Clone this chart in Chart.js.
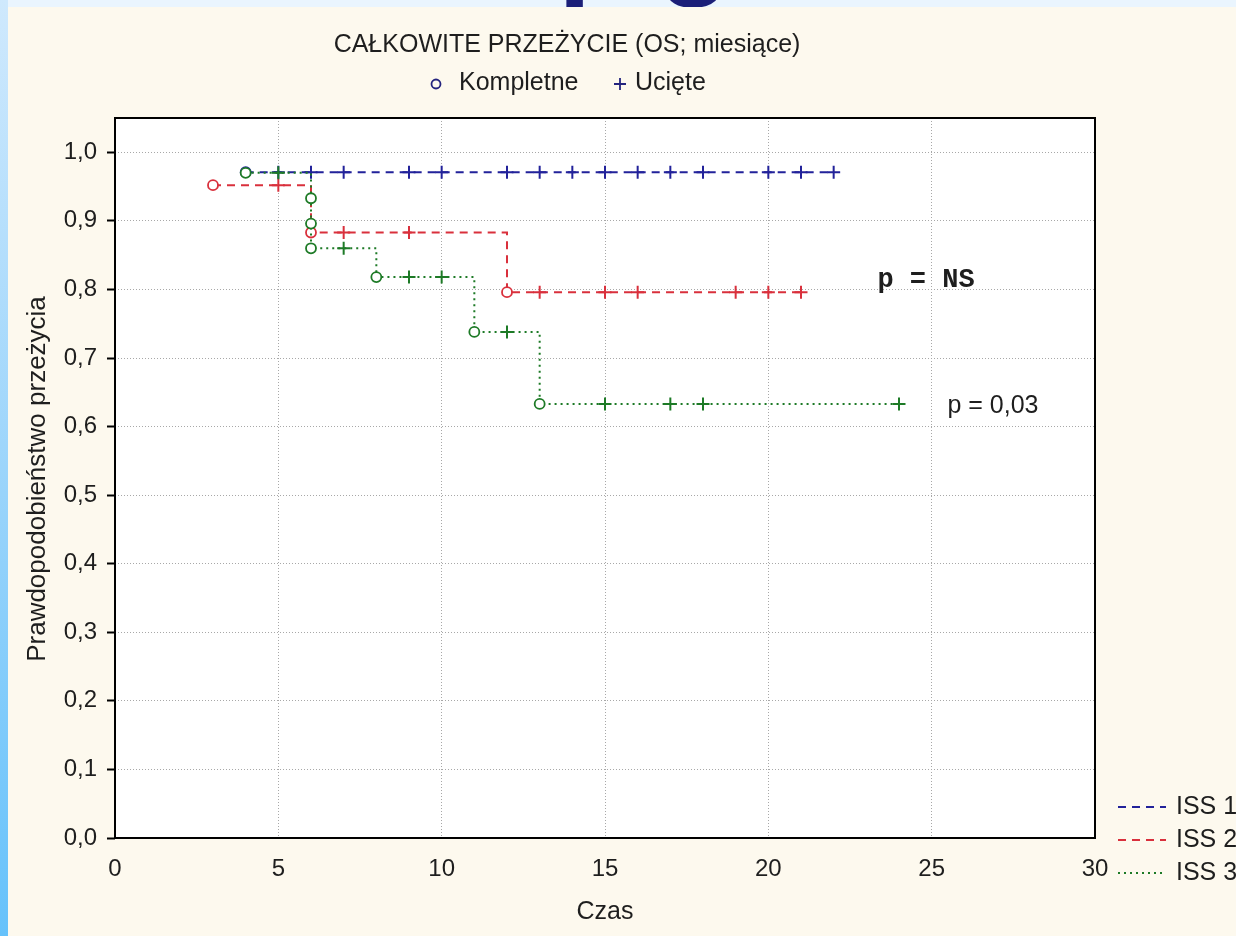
<!DOCTYPE html>
<html>
<head>
<meta charset="utf-8">
<script src="https://cdn.jsdelivr.net/npm/chart.js@4.4.1/dist/chart.umd.min.js"></script>
<style>
  html, body { margin: 0; padding: 0; background: #fdf9ee; }
  #wrap { position: relative; width: 1236px; height: 936px; overflow: hidden; background: #fdf9ee; }
  #km { position: absolute; left: 0; top: 0; }
  #topband { position: absolute; left: 0; top: 0; width: 1236px; height: 7px; background: #eaf5fe; overflow: hidden; }
  #topband span { position: absolute; font: bold 120px "Liberation Sans", Arial, sans-serif; line-height: 120px; color: #1b1f78; }
  #leftband { position: absolute; left: 0; top: 0; width: 8px; height: 936px; background: linear-gradient(#cfe9fd, #9cd5fb 50%, #66c2fb); }
</style>
</head>
<body>
<div id="wrap">
  <canvas id="km" width="1236" height="936"></canvas>
  <div id="topband"><span style="left:558px; top:-120px;">p</span><span style="left:658px; top:-120px;">g</span></div>
  <div id="leftband"></div>
</div>
<script>
// Survival time (months), survival probability and event type (1 = complete, 0 = censored)
const iss1Time  = [4, 5, 6, 7, 9, 10, 12, 13, 14, 15, 16, 17, 18, 20, 21, 22];
const iss1Surv  = [0.971, 0.971, 0.971, 0.971, 0.971, 0.971, 0.971, 0.971, 0.971, 0.971, 0.971, 0.971, 0.971, 0.971, 0.971, 0.971];
const iss1Event = [1, 0, 0, 0, 0, 0, 0, 0, 0, 0, 0, 0, 0, 0, 0, 0];

const iss2Time  = [3, 5, 6, 7, 9, 12, 13, 15, 16, 19, 20, 21];
const iss2Surv  = [0.952, 0.952, 0.883, 0.883, 0.883, 0.796, 0.796, 0.796, 0.796, 0.796, 0.796, 0.796];
const iss2Event = [1, 0, 1, 0, 0, 1, 0, 0, 0, 0, 0, 0];

const iss3Time  = [4, 5, 6, 6, 6, 7, 8, 9, 10, 11, 12, 13, 15, 17, 18, 24];
const iss3Surv  = [0.970, 0.970, 0.933, 0.896, 0.860, 0.860, 0.818, 0.818, 0.818, 0.738, 0.738, 0.633, 0.633, 0.633, 0.633, 0.633];
const iss3Event = [1, 0, 1, 1, 1, 0, 1, 0, 0, 1, 0, 1, 0, 0, 0, 0];

const groupNames = ['ISS 1', 'ISS 2', 'ISS 3'];
const xTicks = [0, 5, 10, 15, 20, 25, 30];
const yTicks = [0, 0.1, 0.2, 0.3, 0.4, 0.5, 0.6, 0.7, 0.8, 0.9, 1.0];
const yTickLabels = ['0,0', '0,1', '0,2', '0,3', '0,4', '0,5', '0,6', '0,7', '0,8', '0,9', '1,0'];

const BLUE = '#22229a', RED = '#d9303c', GREEN = '#1d7a26', NAVY = '#24247e';
const TXT = '#1e1e1e';
const FONT = '"Liberation Sans", Arial, sans-serif';

function series(times, surv, events, label, color, dash, order) {
  return {
    label,
    data: times.map((t, i) => ({ x: t, y: surv[i] })),
    stepped: 'before',
    borderColor: color,
    borderWidth: 2,
    borderDash: dash,
    fill: false,
    order,
    pointStyle: c => events[c.dataIndex] ? 'circle' : 'cross',
    pointRadius: c => events[c.dataIndex] ? 5 : 6.5,
    pointBorderWidth: c => events[c.dataIndex] ? 1.8 : 2,
    pointBorderColor: color,
    pointBackgroundColor: '#ffffff'
  };
}

function drawText(ctx, s, x, y, font, color, align) {
  ctx.save();
  ctx.font = font;
  ctx.fillStyle = color;
  ctx.textAlign = align;
  ctx.textBaseline = 'middle';
  ctx.fillText(s, x, y);
  ctx.restore();
}

// white plot panel, frame, titles, markers key, annotations and group key
const decor = {
  id: 'decor',
  beforeDraw(chart) {
    const { ctx, chartArea: a } = chart;
    ctx.save();
    ctx.fillStyle = '#ffffff';
    ctx.fillRect(a.left, a.top, a.right - a.left, a.bottom - a.top);
    ctx.restore();
  },
  afterDraw(chart) {
    const { ctx, chartArea: a } = chart;

    ctx.save();
    ctx.strokeStyle = '#000';
    ctx.lineWidth = 2;
    ctx.strokeRect(a.left, a.top, a.right - a.left, a.bottom - a.top);
    ctx.restore();

    drawText(ctx, 'CAŁKOWITE PRZEŻYCIE (OS; miesiące)', 567, 45, '25px ' + FONT, TXT, 'center');

    // markers key
    ctx.save();
    ctx.strokeStyle = NAVY; ctx.lineWidth = 1.8;
    ctx.beginPath(); ctx.arc(436, 84, 4.5, 0, Math.PI * 2); ctx.stroke();
    ctx.beginPath(); ctx.moveTo(614, 84); ctx.lineTo(626, 84); ctx.moveTo(620, 78); ctx.lineTo(620, 90); ctx.stroke();
    ctx.restore();
    drawText(ctx, 'Kompletne', 459, 83, '25px ' + FONT, TXT, 'left');
    drawText(ctx, 'Ucięte', 635, 83, '25px ' + FONT, TXT, 'left');

    // axis titles
    ctx.save();
    ctx.translate(38, 479);
    ctx.rotate(-Math.PI / 2);
    drawText(ctx, 'Prawdopodobieństwo przeżycia', 0, 0, '26px ' + FONT, TXT, 'center');
    ctx.restore();
    drawText(ctx, 'Czas', 605, 912, '25px ' + FONT, TXT, 'center');

    // test annotations
    drawText(ctx, 'p = NS', 926, 280, 'bold 27px "Liberation Mono", "Courier New", monospace', TXT, 'center');
    drawText(ctx, 'p = 0,03', 993, 406, '25px ' + FONT, TXT, 'center');

    // group key
    const keys = [[BLUE, [8, 6]], [RED, [8, 6]], [GREEN, [2, 4]]];
    keys.forEach((k, i) => {
      const y = 807 + i * 33;
      ctx.save();
      ctx.strokeStyle = k[0]; ctx.lineWidth = 2; ctx.setLineDash(k[1]);
      ctx.beginPath(); ctx.moveTo(1118, y); ctx.lineTo(1166, y); ctx.stroke();
      ctx.restore();
      drawText(ctx, groupNames[i], 1176, y, '25px ' + FONT, TXT, 'left');
    });
  }
};

new Chart(document.getElementById('km'), {
  type: 'line',
  data: {
    datasets: [
      series(iss1Time, iss1Surv, iss1Event, groupNames[0], BLUE, [8, 6], 3),
      series(iss2Time, iss2Surv, iss2Event, groupNames[1], RED, [8, 6], 2),
      series(iss3Time, iss3Surv, iss3Event, groupNames[2], GREEN, [2, 4], 1)
    ]
  },
  options: {
    responsive: false,
    animation: false,
    layout: { padding: { left: 0, top: 118, right: 141, bottom: 0 } },
    plugins: { legend: { display: false }, title: { display: false }, tooltip: { enabled: false } },
    scales: {
      x: {
        type: 'linear', min: 0, max: 30,
        afterBuildTicks: s => { s.ticks = xTicks.map(v => ({ value: v })); },
        afterFit: s => { s.height = 98; },
        grid: { color: '#a8a8a8', lineWidth: 1, drawTicks: false },
        border: { display: false, dash: [1, 2] },
        ticks: { color: TXT, font: { family: FONT, size: 24 }, padding: 17, maxRotation: 0, callback: v => String(v) }
      },
      y: {
        type: 'linear', min: 0, max: 1.05,
        afterBuildTicks: s => { s.ticks = yTicks.map(v => ({ value: v })); },
        afterFit: s => { s.width = 115; },
        grid: { color: '#a8a8a8', lineWidth: 1, drawTicks: true, tickLength: 8, tickColor: '#000', tickWidth: 2, tickBorderDash: [] },
        border: { display: false, dash: [1, 2] },
        ticks: { color: TXT, font: { family: FONT, size: 24 }, padding: 10, callback: (v, i) => yTickLabels[i] }
      }
    }
  },
  plugins: [decor]
});
</script>
</body>
</html>
